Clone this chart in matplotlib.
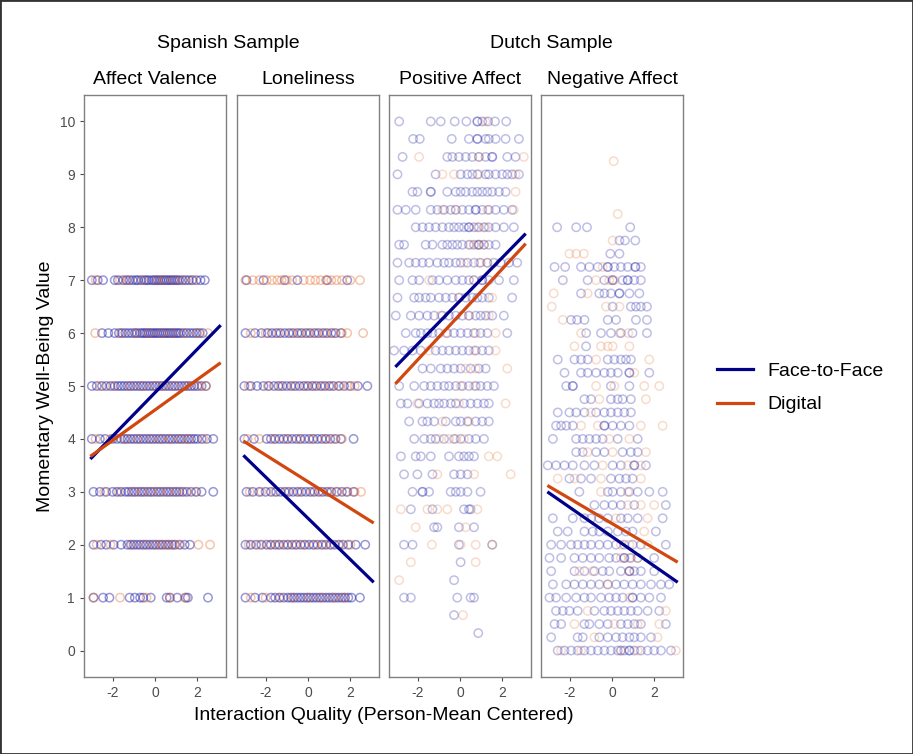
import matplotlib
matplotlib.use("Agg")
import matplotlib.pyplot as plt
from matplotlib.lines import Line2D
from matplotlib.patches import Rectangle

plt.rcParams['font.family'] = ['Liberation Sans', 'DejaVu Sans']
plt.rcParams['axes.unicode_minus'] = False

# ---------- data ----------
panel_titles = ["Affect Valence", "Loneliness", "Positive Affect", "Negative Affect"]
sample_titles = ["Spanish Sample", "Dutch Sample"]
legend_labels = ["Face-to-Face", "Digital"]

valence_levels = [7, 6, 5, 4, 3, 2, 1]
valence_f2f = [
    [-2.98, -2.7, -2.45, -1.9, -1.75, -1.5, -1.35, -1.2, -1.05, -0.9, -0.8, -0.65, -0.5, -0.4, -0.3, -0.15, -0.05, 0.05,
     0.15, 0.25, 0.35, 0.45, 0.55, 0.65, 0.75, 0.85, 0.95, 1.05, 1.15, 1.3, 1.45, 1.6, 1.75, 1.95, 2.15, 2.35],
    [-2.5, -2.2, -1.9, -1.7, -1.55, -1.4, -1.25, -1.1, -0.95, -0.85, -0.7, -0.6, -0.5, -0.4, -0.3, -0.2, -0.1, 0.0, 0.1,
     0.2, 0.3, 0.4, 0.5, 0.6, 0.7, 0.8, 0.9, 1.0, 1.1, 1.2, 1.35, 1.5, 1.65, 1.8, 1.95, 2.1, 2.25],
    [-2.98, -2.75, -2.5, -2.3, -2.1, -1.9, -1.75, -1.6, -1.45, -1.3, -1.15, -1.0, -0.85, -0.7, -0.55, -0.4, -0.25, -0.1,
     0.05, 0.2, 0.35, 0.5, 0.65, 0.8, 0.95, 1.1, 1.25, 1.4, 1.55, 1.7, 1.85, 2.0, 2.2, 2.4],
    [-2.98, -2.6, -2.35, -2.0, -1.8, -1.6, -1.45, -1.3, -1.15, -1.0, -0.85, -0.7, -0.55, -0.4, -0.25, -0.1, 0.05, 0.2,
     0.35, 0.5, 0.65, 0.8, 0.95, 1.1, 1.25, 1.4, 1.55, 1.7, 1.85, 2.0, 2.2, 2.45, 2.75],
    [-2.9, -2.6, -2.3, -2.0, -1.8, -1.6, -1.4, -1.25, -1.1, -0.95, -0.8, -0.65, -0.5, -0.35, -0.2, -0.05, 0.1, 0.25,
     0.4, 0.55, 0.7, 0.85, 1.0, 1.15, 1.3, 1.5, 1.7, 1.95, 2.2, 2.75],
    [-2.9, -2.55, -2.3, -1.95, -1.6, -1.3, -1.15, -1.0, -0.85, -0.7, -0.55, -0.4, -0.25, -0.1, 0.05, 0.2, 0.35, 0.5,
     0.65, 0.8, 0.95, 1.15, 1.4, 1.65],
    [-2.9, -2.45, -2.15, -1.2, -0.95, -0.7, -0.55, -0.2, 0.55, 0.7, 1.05, 1.45, 1.55, 2.5],
]
valence_dig = [
    [-2.8, -1.65, -1.3, -0.6, 0.1, 0.4, 0.9, 1.3, 1.8],
    [-2.82, -1.6, -0.9, -0.3, 0.3, 0.8, 1.4, 2.0, 2.5],
    [-2.6, -2.0, -1.2, -0.6, 0.0, 0.4, 0.9, 1.5, 2.1, 2.4],
    [-2.8, -2.1, -1.4, -0.8, -0.2, 0.3, 0.7, 1.2, 1.6, 2.3],
    [-2.4, -1.7, -1.0, -0.6, -0.2, 0.2, 0.6, 1.0, 1.4, 1.9],
    [-2.75, -2.1, -1.1, -0.5, 0.0, 0.3, 0.6, 0.9, 1.2, 2.05, 2.6],
    [-2.9, -1.65, -0.4, 0.7, 1.4],
]

loneliness_levels = [7, 6, 5, 4, 3, 2, 1]
loneliness_f2f = [
    [-2.9, -2.1, -1.1, -0.5, 0.9, 1.85],
    [-2.95, -2.5, -2.2, -1.9, -1.7, -1.5, -1.3, -1.1, -0.9, -0.7, -0.5, -0.3, -0.1, 0.1, 0.3, 0.5, 0.7, 0.9, 1.1, 1.3,
     1.55],
    [-3.0, -2.7, -2.4, -2.1, -1.85, -1.6, -1.4, -1.2, -1.0, -0.8, -0.6, -0.4, -0.2, 0.0, 0.2, 0.4, 0.6, 0.8, 1.0, 1.2,
     1.45, 1.7, 2.0, 2.35, 2.8],
    [-3.0, -2.55, -1.95, -1.75, -1.55, -1.35, -1.15, -0.95, -0.75, -0.55, -0.35, -0.15, 0.05, 0.25, 0.45, 0.65, 0.85,
     1.05, 1.3, 1.55, 2.15],
    [-2.9, -2.6, -2.3, -2.0, -1.75, -1.5, -1.3, -1.1, -0.9, -0.7, -0.5, -0.3, -0.1, 0.1, 0.3, 0.5, 0.7, 0.9, 1.1, 1.35,
     1.6, 1.85, 2.15],
    [-2.95, -2.7, -2.45, -2.2, -1.95, -1.75, -1.55, -1.35, -1.15, -0.95, -0.75, -0.55, -0.35, -0.15, 0.05, 0.25, 0.45,
     0.65, 0.85, 1.05, 1.25, 1.45, 1.65, 1.9, 2.25, 2.7],
    [-2.95, -2.5, -2.15, -1.75, -1.55, -1.35, -1.15, -0.95, -0.8, -0.65, -0.5, -0.35, -0.2, -0.05, 0.1, 0.25, 0.4, 0.55,
     0.7, 0.85, 1.0, 1.15, 1.3, 1.45, 1.6, 1.75, 1.9, 2.05, 2.45],
]
loneliness_dig = [
    [-2.95, -2.6, -2.3, -1.95, -1.7, -1.45, -1.25, -1.0, -0.75, -0.2, 0.1, 0.35, 0.6, 0.85, 1.1, 1.35, 1.6, 2.0, 2.45],
    [-2.7, -2.0, -1.4, -0.8, -0.4, 0.0, 0.4, 0.8, 1.2, 1.6, 1.85, 2.6],
    [-2.8, -1.9, -1.3, -0.7, -0.1, 0.3, 0.7, 1.1, 1.5, 1.9, 2.2],
    [-2.85, -2.3, -1.6, -1.0, -0.4, 0.2, 0.8, 1.2, 1.6],
    [-2.75, -2.2, -1.6, -1.0, -0.4, 0.2, 0.6, 1.0, 1.4, 1.8, 2.2, 2.5],
    [-2.8, -2.3, -1.8, -1.4, -1.0, -0.6, -0.2, 0.3, 0.7, 1.1, 1.5, 2.0],
    [-2.7, -2.0, -1.3, -0.7, 0.0, 0.6, 1.2, 1.7],
]

positive_levels = [10, 9.67, 9.33, 9, 8.67, 8.33, 8, 7.67, 7.33, 7, 6.67, 6.33, 6, 5.67, 5.33, 5, 4.67, 4.33, 4,
                   3.67, 3.33, 3, 2.67, 2.33, 2, 1.67, 1.33, 1, 0.67, 0.33]
positive_f2f = [
    [-2.87, -1.38, -0.91, -0.25, 0.30, 0.82, 0.82, 1.05, 1.33, 1.65, 2.18],
    [-2.21, -1.90, -0.39, 0.42, 0.82, 0.82, 1.21, 1.36, 1.68, 2.15, 2.78],
    [-2.71, -0.6, -0.36, -0.05, 0.27, 0.58, 0.89, 1.21, 1.52, 1.52, 2.23, 2.62],
    [-2.95, -1.15, 0.03, 0.35, 0.58, 0.82, 1.21, 1.36, 1.68, 1.99, 2.23, 2.46, 2.78],
    [-2.24, -2.01, -1.38, -1.38, -0.6, -0.2, 0.03, 0.27, 0.58, 0.82, 1.05, 1.29, 1.52, 1.84, 2.15],
    [-2.95, -2.56, -2.09, -1.38, -1.07, -0.75, -0.44, -0.2, 0.11, 0.42, 0.74, 0.74, 1.05, 1.36, 1.68, 2.07, 2.46],
    [-2.09, -1.77, -1.46, -1.15, -0.83, -0.52, -0.28, -0.05, 0.19, 0.42, 0.42, 0.66, 0.89, 1.13, 1.36, 1.68, 2.07,
     2.54],
    [-2.87, -2.64, -1.62, -1.30, -0.83, -0.6, -0.36, -0.13, 0.11, 0.42, 0.66, 0.89, 0.89, 1.13, 1.36, 1.68],
    [-2.95, -2.4, -2.09, -1.77, -1.46, -1.07, -0.75, -0.52, -0.2, 0.03, 0.35, 0.66, 0.97, 1.29, 1.6, 1.91, 2.31, 2.70],
    [-2.87, -2.24, -1.93, -1.30, -0.99, -0.6, -0.2, 0.11, 0.42, 0.66, 1.05, 1.05, 1.36, 1.84, 2.54],
    [-2.95, -2.16, -1.93, -1.62, -1.38, -0.99, -0.67, -0.36, -0.05, 0.27, 0.58, 0.82, 1.05, 1.36, 2.46],
    [-3.03, -2.32, -1.93, -1.54, -1.22, -0.83, -0.52, -0.2, 0.11, 0.42, 0.74, 0.97, 1.21, 1.52, 2.07],
    [-2.56, -2.09, -1.85, -1.54, -1.30, -0.99, -0.6, -0.28, 0.03, 0.35, 0.66, 0.97, 1.29, 2.23],
    [-3.11, -2.64, -2.24, -1.85, -1.15, -0.83, -0.52, -0.2, 0.11, 0.42, 0.74, 1.05, 1.36],
    [-1.77, -1.38, -0.91, -0.6, -0.28, 0.03, 0.50, 0.89, 1.21],
    [-2.87, -2.16, -1.69, -1.38, -1.07, -0.75, -0.52, -0.2, 0.11, 0.42, 0.74, 0.97, 1.29, 1.60],
    [-2.79, -2.48, -1.93, -1.54, -1.22, -0.99, -0.75, -0.44, -0.2, 0.19, 0.50, 0.82, 1.13, 1.36],
    [-2.4, -1.77, -1.54, -1.22, -0.67, -0.2, 0.03, 0.35, 0.74, 1.05, 1.36],
    [-2.16, -1.69, -1.38, -1.15, -0.75, -0.28, 0.03, 0.42, 0.74, 1.13],
    [-2.79, -2.09, -1.85, -1.38, -0.52, -0.05, 0.19, 0.42, 0.66],
    [-2.64, -2.01, -1.30, -0.28, 0.03, 0.35],
    [-2.24, -1.77, -1.77, -1.46, -0.44, -0.2, 0.03, 0.35, 0.97],
    [-2.32, -1.30, 0.19, 0.42, 0.50],
    [-1.22, -1.07, -0.05, 0.66],
    [-2.64, -2.24, -0.05, 1.52],
    [0.03],
    [-0.28],
    [-2.64, -2.32, -0.13, 0.50, 0.66],
    [-0.28],
    [0.86],
]
positive_dig = [
    [1.2], [], [-1.93, 0.89, 3.01], [-0.83, -0.28, 0.89, 2.62], [2.62], [-0.83, -0.2, 1.29, 2.54], [0.82, 1.21],
    [0.5, 0.82, 1.13], [0.19, 0.89, 1.29], [-1.46, 0.66], [-0.03, 1.52], [-0.91, 0.42, 1.36], [-0.67, 0.74, 1.68],
    [-1.46, 0.66, 1.68], [0.27, 0.74, 2.23], [0.03, 0.66], [-2.01, -0.05, 2.15], [-0.83, 0.42],
    [-0.99, -0.52, -0.20, 0.19], [1.36, 1.76], [-1.07, 0.66, 2.39], [], [-2.79, -1.54, -1.07, -0.6, 0.82],
    [-2.09, 0.27], [-1.33, 0.03, 0.74, 1.52], [-2.32, 0.74], [-2.87], [], [0.14], [],
]

negative_levels = [9.25, 8.25, 8.0, 7.75, 7.5, 7.25, 7.0, 6.75, 6.5, 6.25, 6.0, 5.75, 5.5, 5.25, 5.0, 4.75, 4.5,
                   4.25, 4.0, 3.75, 3.5, 3.25, 3.0, 2.75, 2.5, 2.25, 2.0, 1.75, 1.5, 1.25, 1.0, 0.75, 0.5, 0.25, 0.0]
negative_f2f = [
    [], [],
    [-2.59, -1.69, -1.18, 0.86],
    [0.35, 0.61, 1.10],
    [-0.08, 0.35],
    [-2.71, -2.21, -1.46, -1.07, -0.67, -0.2, -0.2, 0.11, 0.42, 0.74, 1.10, 1.10, 1.36],
    [-2.32, -1.15, -0.36, 0.03, 0.03, 0.50, 0.74, 0.74, 1.05, 1.36],
    [-1.46, -0.6, -0.36, -0.05, 0.35, 0.35, 0.82, 1.29],
    [0.03, 0.89, 1.13, 1.36, 1.65],
    [-1.93, -1.65, -1.30, -0.2, 0.19, 1.13, 1.65],
    [-1.22, -0.52, -0.05, 0.42, 0.97, 1.65],
    [-1.22],
    [-2.56, -1.77, -1.46, -1.15, -0.2, 0.11, 0.42, 0.66, 0.89],
    [-2.24, -1.46, -1.15, -0.75, -0.36, -0.05, 0.27, 0.82, 0.82, 1.76],
    [-2.16, -1.85, -1.85, -0.05, 0.82],
    [-1.30, -0.99, -0.05, 0.27, 0.50, 0.89],
    [-2.56, -2.01, -1.69, -1.30, -0.75, -0.36, -0.05, 0.27, 0.58, 0.89],
    [-2.64, -2.4, -2.16, -1.85, -0.36, -0.36, 0.03, 0.42, 0.82],
    [-2.79, -1.69, -1.38, -1.07, -0.75, -0.44, 0.27, 1.21],
    [-1.69, -1.38, -0.75, -0.36, 0.50, 0.89, 1.21],
    [-3.03, -2.64, -2.24, -1.85, -1.30, -0.83, 0.03, 0.42, 1.05, 1.05, 1.60],
    [-2.01, -1.46, -0.99, -0.05, 0.35, 0.66, 0.97],
    [-1.54, -0.2, 0.03, 0.42, 0.82, 1.21, 1.76, 2.39],
    [-0.83, -0.36, 0.03, 0.42, 1.05, 2.54],
    [-2.79, -1.85, -1.30, -0.99, -0.6, -0.2, 0.42, 0.74, 1.21, 2.39],
    [-2.56, -2.09, -1.30, -0.91, -0.6, -0.2, 0.27, 0.66, 0.97, 2.07],
    [-2.87, -2.4, -1.93, -1.62, -1.30, -0.99, -0.6, -0.2, 0.19, 0.58, 0.97, 1.36, 2.54],
    [-2.95, -2.4, -1.77, -1.38, -0.99, -0.6, -0.13, 0.19, 0.58, 0.58, 0.89, 1.21, 1.99],
    [-2.87, -1.77, -1.30, -0.83, -0.44, -0.13, 0.42, 0.82, 0.82, 1.05, 1.36, 1.99],
    [-2.79, -2.16, -1.77, -1.38, -0.99, -0.6, -0.2, 0.19, 0.58, 0.97, 1.36, 1.84, 2.31, 2.70],
    [-2.95, -2.64, -2.16, -1.69, -1.30, -0.99, -0.52, -0.13, 0.19, 0.50, 0.97, 0.97, 1.36, 1.76, 2.31],
    [-2.64, -2.32, -2.01, -1.62, -0.83, -0.36, -0.05, 0.27, 0.58, 0.89, 1.21, 1.68, 2.23],
    [-2.71, -2.4, -1.30, -1.07, -0.6, -0.2, 0.42, 0.74, 1.05, 1.36, 2.54],
    [-2.87, -1.62, -1.38, -0.6, -0.2, 0.19, 0.50, 0.82, 1.05, 1.36, 1.84],
    [-2.56, -2.24, -1.93, -1.62, -1.30, -0.99, -0.67, -0.36, -0.05, 0.27, 0.42, 0.58, 0.82, 0.82, 1.05, 1.36, 1.68,
     1.99, 2.31, 2.78],
]
negative_dig = [
    [0.08], [0.27], [], [0.03], [-2.01, -1.69, -1.33], [-0.44], [-0.75, -0.13, 0.11], [-2.75, -1.15],
    [-2.84, -0.28, 0.35], [-2.32], [-1.46, 0.35, 0.77], [-1.77, -0.52, -0.2, 0.03, 0.82], [-0.75, 1.76], [1.05],
    [-0.75, 0.11, 1.52, 2.23], [-0.6, 1.6], [-0.99], [-1.46, -0.67, 1.36, 2.39], [-0.13, 0.82], [-1.15, 0.03, 1.6],
    [-0.44, 0.74, 1.36], [-2.56, -1.77, -0.52, 1.36], [-0.52, 0.74], [0.74, 1.36, 1.99], [0.19, 1.68], [1.52],
    [0.42, 0.82, 1.68], [0.42, 0.82, 1.21], [-1.54, -0.91, 0.82], [-0.2], [0.82], [-1.15, 2.54],
    [-1.77, 0.11, 1.21, 2.23], [-0.83, 2.15], [-2.40, -1.46, 0.42, 1.21, 3.01],
]

# fitted lines: y at the two ends of line_x
line_x = [-3.05, 3.1]
f2f_line_y = [[3.62, 6.15], [3.69, 1.29], [5.36, 7.88], [3.00, 1.29]]
dig_line_y = [[3.67, 5.44], [3.96, 2.41], [5.04, 7.69], [3.12, 1.67]]

panels = [
    (valence_levels, valence_f2f, valence_dig),
    (loneliness_levels, loneliness_f2f, loneliness_dig),
    (positive_levels, positive_f2f, positive_dig),
    (negative_levels, negative_f2f, negative_dig),
]

# ---------- drawing ----------
blue_pt, orange_pt = "#1C1CA6", "#E2621E"
blue_ln, orange_ln = "#00008B", "#D2470F"
grey = "#4D4D4D"

W, H = 913, 754
fig = plt.figure(figsize=(W / 100, H / 100), dpi=100)
lefts = [84, 237, 389, 541]

def flatten(levels, rows):
    xs, ys = [], []
    for lv, row in zip(levels, rows):
        xs += row
        ys += [lv] * len(row)
    return xs, ys

for i, (levels, f2f, dig) in enumerate(panels):
    ax = fig.add_axes([lefts[i] / W, 1 - 677 / H, 142 / W, 582 / H])
    bx, by = flatten(levels, f2f)
    ox, oy = flatten(levels, dig)
    a = 0.45 if i < 2 else 0.28
    ax.scatter(bx, by, s=36, facecolors="none", edgecolors=blue_pt, alpha=a, linewidths=1.1)
    ax.scatter(ox, oy, s=36, facecolors="none", edgecolors=orange_pt, alpha=a * 0.8, linewidths=1.1)
    ax.plot(line_x, f2f_line_y[i], color=blue_ln, lw=2.3, solid_capstyle="butt")
    ax.plot(line_x, dig_line_y[i], color=orange_ln, lw=2.3, solid_capstyle="butt")

    ax.set_xlim(-3.35, 3.35)
    ax.set_ylim(-0.5, 10.5)
    ax.set_xticks([-2, 0, 2])
    ax.set_yticks(range(0, 11))
    ax.tick_params(colors=grey, labelsize=10, length=3, width=0.8)
    if i > 0:
        ax.tick_params(axis="y", left=False, labelleft=False)
    for sp in ax.spines.values():
        sp.set_color("#808080")
        sp.set_linewidth(1.0)
    fig.text((lefts[i] + 71) / W, 1 - 80 / H, panel_titles[i], ha="center", va="center", fontsize=14)

fig.text(228 / W, 1 - 43 / H, sample_titles[0], ha="center", va="center", fontsize=14)
fig.text(551 / W, 1 - 43 / H, sample_titles[1], ha="center", va="center", fontsize=14)
fig.text(45 / W, 1 - 386 / H, "Momentary Well-Being Value", rotation=90, ha="center", va="center", fontsize=14)
fig.text(384 / W, 1 - 716 / H, "Interaction Quality (Person-Mean Centered)", ha="center", va="center",
         fontsize=14)

handles = [Line2D([], [], color=blue_ln, lw=2.3), Line2D([], [], color=orange_ln, lw=2.3)]
fig.legend(handles, legend_labels, loc="center left", bbox_to_anchor=(717 / W, 1 - 388 / H), frameon=False,
           fontsize=14, handlelength=1.85, handletextpad=0.75, labelspacing=0.8, borderpad=0, borderaxespad=0)

fig.patches.append(Rectangle((0, 0), 1, 1, transform=fig.transFigure, fill=False, edgecolor="#333333", lw=2))

fig.savefig("out.png", dpi=100)
